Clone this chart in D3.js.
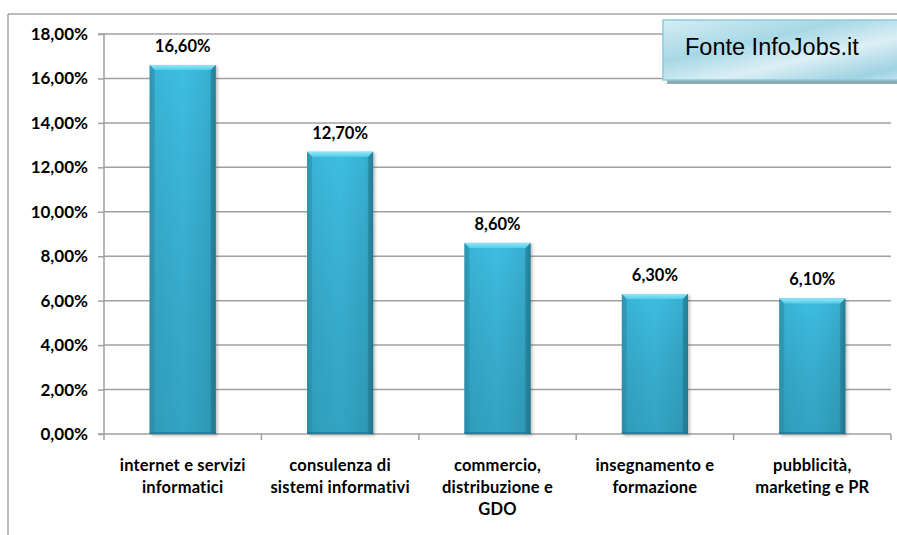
<!DOCTYPE html>
<html>
<head>
<meta charset="utf-8">
<script src="https://cdn.jsdelivr.net/npm/d3@7/dist/d3.min.js"></script>
<style>
html,body{margin:0;padding:0;background:#fff;}
svg{display:block;}
</style>
</head>
<body>
<svg id="chart" width="897" height="535"></svg>
<script>
const categories = [
  ["internet e servizi", "informatici"],
  ["consulenza di", "sistemi informativi"],
  ["commercio,", "distribuzione e", "GDO"],
  ["insegnamento e", "formazione"],
  ["pubblicità,", "marketing e PR"]
];
const values = [16.6, 12.7, 8.6, 6.3, 6.1];
const valueLabels = ["16,60%", "12,70%", "8,60%", "6,30%", "6,10%"];
const yTicks = [0, 2, 4, 6, 8, 10, 12, 14, 16, 18];
const sourceText = "Fonte InfoJobs.it";

(function(){
const svg = d3.select("#chart");
const W = 897, H = 535;
const mLeft = 104, mRight = 891, mTop = 34, mBottom = 434;
const font = "Lato, 'Open Sans', sans-serif";

const defs = svg.append("defs");
const gH = defs.append("linearGradient").attr("id","barH").attr("x1","0").attr("x2","1").attr("y1","0").attr("y2","0");
gH.append("stop").attr("offset","0").attr("stop-color","#2f9bb8");
gH.append("stop").attr("offset","0.08").attr("stop-color","#3ab5d7");
gH.append("stop").attr("offset","0.5").attr("stop-color","#3ebee2");
gH.append("stop").attr("offset","0.9").attr("stop-color","#38b0d2");
gH.append("stop").attr("offset","1").attr("stop-color","#2a8aa4");
const gV = defs.append("linearGradient").attr("id","barV").attr("x1","0").attr("x2","0").attr("y1","0").attr("y2","1");
gV.append("stop").attr("offset","0").attr("stop-color","#000").attr("stop-opacity","0");
gV.append("stop").attr("offset","1").attr("stop-color","#0a3a4a").attr("stop-opacity","0.2");
const gTop = defs.append("linearGradient").attr("id","barTop").attr("x1","0").attr("x2","0").attr("y1","0").attr("y2","1");
gTop.append("stop").attr("offset","0").attr("stop-color","#8fe6f8");
gTop.append("stop").attr("offset","1").attr("stop-color","#55cdea");
const gBox = defs.append("linearGradient").attr("id","boxG").attr("x1","0").attr("x2","1").attr("y1","0").attr("y2","1");
gBox.append("stop").attr("offset","0").attr("stop-color","#d6edf3");
gBox.append("stop").attr("offset","0.35").attr("stop-color","#a7d8e6");
gBox.append("stop").attr("offset","0.6").attr("stop-color","#dceff5");
gBox.append("stop").attr("offset","0.85").attr("stop-color","#9fd2e2");
gBox.append("stop").attr("offset","1").attr("stop-color","#d3ecf3");
const blur = defs.append("filter").attr("id","sh").attr("x","-20%").attr("y","-5%").attr("width","140%").attr("height","110%");
blur.append("feGaussianBlur").attr("stdDeviation","1.5");

svg.append("line").attr("x1",8).attr("x2",W).attr("y1",14).attr("y2",14).attr("stroke","#a6a6a6").attr("stroke-width",1.5);
svg.append("line").attr("x1",8).attr("x2",8).attr("y1",14).attr("y2",H).attr("stroke","#a6a6a6").attr("stroke-width",1.5);

const x = d3.scaleBand().domain(d3.range(categories.length)).range([mLeft, mRight]).paddingInner(0.58).paddingOuter(0.29);
const xb = d3.scaleBand().domain(d3.range(categories.length)).range([mLeft, mRight]);
const y = d3.scaleLinear().domain([0, 18]).range([mBottom, mTop]);

svg.append("g").selectAll("line").data(yTicks.filter(d=>d>0)).join("line")
  .attr("x1", mLeft).attr("x2", mRight).attr("y1", d=>y(d)).attr("y2", d=>y(d))
  .attr("stroke","#a0a0a0").attr("stroke-width",1.5);

const yAxis = d3.axisLeft(y).tickValues(yTicks).tickSize(6).tickPadding(10)
  .tickFormat(d => d3.format(".2f")(d).replace(".", ",") + "%");
const gy = svg.append("g").attr("transform",`translate(${mLeft},0)`).call(yAxis);
gy.select(".domain").attr("stroke","#a0a0a0").attr("stroke-width",1.5).attr("d",`M-6,${mTop}H0V${mBottom}H-6`);
gy.selectAll(".tick line").attr("stroke","#a0a0a0").attr("stroke-width",1.5);
gy.selectAll(".tick text").attr("font-family",font).attr("font-weight","bold").attr("font-size","17px").attr("fill","#000");

svg.append("line").attr("x1",mLeft).attr("x2",mRight).attr("y1",mBottom).attr("y2",mBottom).attr("stroke","#a0a0a0").attr("stroke-width",1.5);
svg.append("g").selectAll("line").data(d3.range(categories.length+1)).join("line")
  .attr("x1", d=> d<categories.length ? xb(d) : mRight).attr("x2", d=> d<categories.length ? xb(d) : mRight)
  .attr("y1", mBottom).attr("y2", mBottom+6).attr("stroke","#a0a0a0").attr("stroke-width",1.5);

const bars = svg.append("g").selectAll("g").data(values).join("g");
bars.append("rect").attr("x",(d,i)=>x(i)+2).attr("y",d=>y(d)+1).attr("width",x.bandwidth()).attr("height",d=>mBottom-y(d)+1)
  .attr("fill","#555").attr("opacity",0.35).attr("filter","url(#sh)");
bars.append("rect").attr("x",(d,i)=>x(i)).attr("y",d=>y(d)).attr("width",x.bandwidth()).attr("height",d=>mBottom-y(d))
  .attr("fill","url(#barH)");
bars.append("rect").attr("x",(d,i)=>x(i)).attr("y",d=>y(d)).attr("width",x.bandwidth()).attr("height",d=>mBottom-y(d))
  .attr("fill","url(#barV)");
const bev = 5;
bars.append("path").attr("d",(d,i)=>{
  const x0=x(i), x1=x(i)+x.bandwidth(), y0=y(d);
  return `M${x0},${y0}H${x1}L${x1-bev},${y0+bev}H${x0+bev}Z`;
}).attr("fill","url(#barTop)");
bars.append("path").attr("d",(d,i)=>{
  const x0=x(i), y0=y(d);
  return `M${x0},${y0}L${x0+bev},${y0+bev}V${mBottom-2}L${x0},${mBottom}Z`;
}).attr("fill","#2b8fab").attr("opacity",0.55);
bars.append("path").attr("d",(d,i)=>{
  const x1=x(i)+x.bandwidth(), y0=y(d);
  return `M${x1},${y0}L${x1-bev},${y0+bev}V${mBottom-2}L${x1},${mBottom}Z`;
}).attr("fill","#1f7088").attr("opacity",0.45);
bars.append("rect").attr("x",(d,i)=>x(i)).attr("y",mBottom-2).attr("width",x.bandwidth()).attr("height",2).attr("fill","#1f7088").attr("opacity",0.6);

svg.append("g").selectAll("text").data(values).join("text")
  .attr("x",(d,i)=>x(i)+x.bandwidth()/2).attr("y",d=>y(d)-13)
  .attr("text-anchor","middle").attr("font-family",font).attr("font-weight","bold").attr("font-size","16.5px").attr("fill","#000")
  .text((d,i)=>valueLabels[i]);

const cl = svg.append("g").selectAll("text").data(categories).join("text")
  .attr("text-anchor","middle").attr("font-family",font).attr("font-weight","bold").attr("font-size","16.5px")
  .attr("letter-spacing","0.2px").attr("fill","#000");
cl.selectAll("tspan").data((d,i)=>d.map(s=>({s,i}))).join("tspan")
  .attr("x",d=>xb(d.i)+xb.bandwidth()/2).attr("y",(d,j)=>471+j*22).text(d=>d.s);

const bx = 663, by = 20, bw = 260, bh = 60;
svg.append("rect").attr("x",bx+4).attr("y",by+4).attr("width",bw).attr("height",bh).attr("fill","#8faab2");
svg.append("rect").attr("x",bx).attr("y",by).attr("width",bw).attr("height",bh).attr("fill","url(#boxG)").attr("stroke","#8ccbdc").attr("stroke-width",1.5);
svg.append("text").attr("x",685).attr("y",55).attr("font-family","'Liberation Sans', Arial, sans-serif").attr("font-size","23.5px").attr("fill","#000").text(sourceText);
})();
</script>
</body>
</html>
